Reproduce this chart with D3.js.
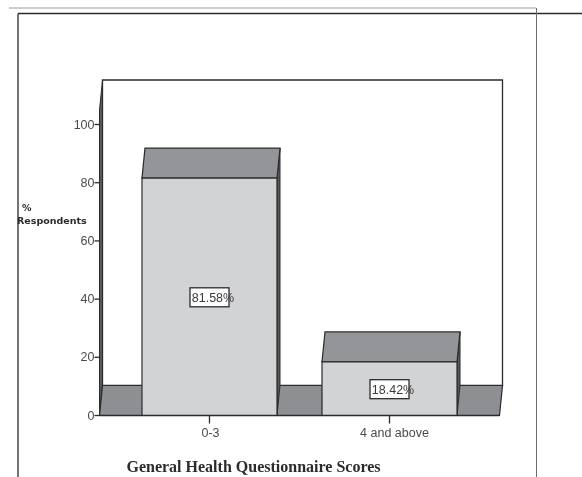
<!DOCTYPE html>
<html>
<head>
<meta charset="utf-8">
<script src="https://cdn.jsdelivr.net/npm/d3@7"></script>
<style>
html, body { margin: 0; padding: 0; background: #fff; }
svg { display: block; filter: blur(0.35px); }
.tick text { font-family: "Liberation Sans", Arial, sans-serif; font-size: 12.5px; fill: #4a4a4c; }
</style>
</head>
<body>
<div id="chart"></div>
<script>
// values
var categories = ["0-3", "4 and above"];
var percents = [81.58, 18.42];
var percentLabels = ["81.58%", "18.42%"];
var yTicks = [0, 20, 40, 60, 80, 100];

var svgWidth = 582;
var svgHeight = 477;

// 3d look: back planes are shifted by this much
var depthX = 3;
var depthY = 30;

var dark = "#2b2b2d";
var sideColor = "#58595b";
var topColor = "#939598";
var frontColor = "#d1d3d4";

var svg = d3.select("#chart").append("svg")
    .attr("width", svgWidth)
    .attr("height", svgHeight);

var xScale = d3.scaleBand()
    .domain(categories)
    .range([99.5, 499.5])
    .paddingInner(0.25)
    .paddingOuter(0.236);

var yScale = d3.scaleLinear()
    .domain([0, 100])
    .range([415.5, 124.5]);

var x0 = xScale.range()[0];
var x1 = xScale.range()[1];
var y0 = yScale(0);
var wallTop = 80;

function poly(points, fill, stroke, width) {
    svg.append("polygon")
        .attr("points", points.map(function(p) { return p.join(","); }).join(" "))
        .attr("fill", fill)
        .attr("stroke", stroke)
        .attr("stroke-width", width)
        .attr("stroke-linejoin", "miter");
}

// outer frame lines
function line(a, b, c, d, color, w) {
    svg.append("line")
        .attr("x1", a).attr("y1", b).attr("x2", c).attr("y2", d)
        .attr("stroke", color).attr("stroke-width", w);
}
line(9, 8, 536, 8, "#9a9a9c", 1);
line(18, 13.5, 582, 13.5, dark, 1.3);
line(18, 13.5, 18, 477, dark, 1.3);
line(536.5, 8, 536.5, 477, "#6d6e70", 1);

// back wall
poly([[x0 + depthX, wallTop], [x1 + depthX, wallTop], [x1 + depthX, y0 - depthY], [x0 + depthX, y0 - depthY]], "#fff", dark, 1.3);
// left wall
poly([[x0, wallTop + depthY], [x0 + depthX, wallTop], [x0 + depthX, y0 - depthY], [x0, y0]], sideColor, dark, 1);
// floor
poly([[x0, y0], [x0 + depthX, y0 - depthY], [x1 + depthX, y0 - depthY], [x1, y0]], "#8e8f92", dark, 1.2);

// bars
categories.forEach(function(c, i) {
    var left = xScale(c);
    var right = left + xScale.bandwidth();
    var top = yScale(percents[i]);
    poly([[right, top], [right + depthX, top - depthY], [right + depthX, y0 - depthY], [right, y0]], sideColor, dark, 1);
    poly([[left, top], [left + depthX, top - depthY], [right + depthX, top - depthY], [right, top]], topColor, dark, 1.2);
    poly([[left, top], [right, top], [right, y0], [left, y0]], frontColor, dark, 1.2);
});

// value labels, text runs over the box edge like the original
categories.forEach(function(c, i) {
    var cx = xScale(c) + xScale.bandwidth() / 2;
    var cy = yScale(percents[i] / 2);
    svg.append("rect")
        .attr("x", cx - 19.5)
        .attr("y", cy - 9)
        .attr("width", 39)
        .attr("height", 19)
        .attr("fill", "#fff")
        .attr("stroke", dark)
        .attr("stroke-width", 1.3);
    svg.append("text")
        .attr("x", cx + 3.5)
        .attr("y", cy + 5.5)
        .attr("text-anchor", "middle")
        .attr("font-family", "Liberation Sans, Arial, sans-serif")
        .attr("font-size", "12.5px")
        .attr("fill", "#3a3a3c")
        .text(percentLabels[i]);
});

// axes
var yAxis = d3.axisLeft(yScale).tickValues(yTicks).tickSize(5).tickPadding(0).offset(0);
svg.append("g")
    .attr("transform", "translate(" + x0 + ",0)")
    .call(yAxis)
    .call(function(g) { g.select(".domain").remove(); })
    .call(function(g) { g.selectAll(".tick line").attr("stroke", dark).attr("stroke-width", 1.3); });

var xAxis = d3.axisBottom(xScale).tickSize(8).tickSizeOuter(0).tickPadding(5).offset(0);
svg.append("g")
    .attr("transform", "translate(0," + y0 + ")")
    .call(xAxis)
    .call(function(g) { g.select(".domain").attr("stroke", dark).attr("stroke-width", 1.3); })
    .call(function(g) { g.selectAll(".tick line").attr("stroke", dark).attr("stroke-width", 1.3); })
    .call(function(g) { g.selectAll(".tick text").attr("dx", function(d, i) { return i ? 5 : 1; }); });

// y title
svg.append("text")
    .attr("x", 22)
    .attr("y", 211)
    .attr("font-family", "DejaVu Sans, Verdana, sans-serif")
    .attr("font-weight", "bold")
    .attr("font-size", "9.5px")
    .attr("fill", "#2b2b2d")
    .text("%");
svg.append("text")
    .attr("x", 17)
    .attr("y", 224)
    .attr("font-family", "DejaVu Sans, Verdana, sans-serif")
    .attr("font-weight", "bold")
    .attr("font-size", "9.5px")
    .attr("fill", "#2b2b2d")
    .text("Respondents");

// x title
svg.append("text")
    .attr("x", 253.5)
    .attr("y", 472)
    .attr("text-anchor", "middle")
    .attr("font-family", "Liberation Serif, Times New Roman, serif")
    .attr("font-weight", "bold")
    .attr("font-size", "16px")
    .attr("fill", "#2b2b2d")
    .text("General Health Questionnaire Scores");
</script>
</body>
</html>
